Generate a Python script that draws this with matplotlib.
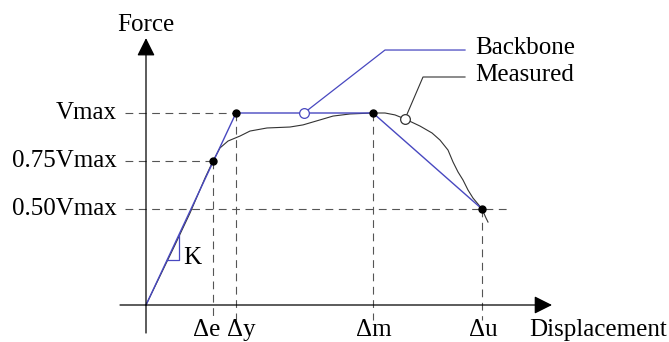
import numpy as np
import matplotlib
matplotlib.use("Agg")
import matplotlib.pyplot as plt

plt.rcParams['font.family'] = ['Liberation Serif', 'DejaVu Serif']

# ── key points (displacement units, force in Vmax units) ──
d_e, d_y, d_m, d_u = 67, 90, 227, 336
levels = [1.0, 0.75, 0.50]
level_labels = ["Vmax", "0.75Vmax", "0.50Vmax"]
disp_labels = ["\u0394e", "\u0394y", "\u0394m", "\u0394u"]
disp_label_x = [61, 95, 228, 337]   # labels sit a little apart under Δe / Δy

backbone_x = [0, d_y, d_m, d_u]
backbone_y = [0, 1.0, 1.0, 0.5]

measured_x = [0, 14, 29, 44, 59, 67, 74, 82, 94, 104, 121, 144, 157, 174, 187,
              204, 227, 239, 249, 259, 274, 286, 294, 302, 307, 312, 317, 322,
              327, 332, 336, 340, 342]
measured_y = [0, 0.151, 0.313, 0.479, 0.661, 0.75, 0.818, 0.854, 0.880, 0.906,
              0.922, 0.927, 0.938, 0.964, 0.984, 0.995, 1.0, 1.0, 0.990, 0.969,
              0.932, 0.896, 0.859, 0.807, 0.745, 0.693, 0.651, 0.599, 0.557,
              0.526, 0.5, 0.453, 0.432]

BLUE = "#4848c0"
DASH = "#555555"
FS = 18

fig = plt.figure(figsize=(6.69, 3.42), dpi=100)
ax = fig.add_axes([0, 0, 1, 1])
ax.set_xlim(-146, 523)
ax.set_ylim(-37 / 192, 305 / 192)
ax.axis("off")

# axes with arrows
arrow = dict(arrowstyle="-|>,head_length=0.5,head_width=0.25", mutation_scale=22,
             lw=0.9, color="black", shrinkA=0, shrinkB=0)
ax.annotate("", xy=(0, 1.39), xytext=(0, -0.146), arrowprops=arrow)
ax.annotate("", xy=(406, 0), xytext=(-26, 0), arrowprops=arrow)

# dashed guides
dash_kw = dict(color=DASH, lw=0.8, dashes=(7, 5))
ax.plot([-21, d_y], [1.0, 1.0], **dash_kw)
ax.plot([-21, d_e], [0.75, 0.75], **dash_kw)
ax.plot([-21, 364], [0.5, 0.5], **dash_kw)
for xv, yv in [(d_e, 0.75), (d_y, 1.0), (d_m, 1.0), (d_u, 0.5)]:
    ax.plot([xv, xv], [yv, -0.078], **dash_kw)

# curves
ax.plot(measured_x, measured_y, color="#333333", lw=0.8)
ax.plot(backbone_x, backbone_y, color=BLUE, lw=1.0)

# key points
ax.plot([d_e, d_y, d_m, d_u], [0.75, 1.0, 1.0, 0.5], "o", color="black",
        ms=5, zorder=5)

# stiffness triangle
slope = 1.0 / d_y
y0, y1 = 0.234, 0.365
ax.plot([y0 / slope, y1 / slope, y1 / slope], [y0, y0, y1], color=BLUE, lw=0.9)
ax.text(37, 0.245, "K", fontsize=FS, va="center", ha="left")

# leaders
ax.plot([158, 239, 319], [1.0, 1.328, 1.328], color=BLUE, lw=0.9)
ax.plot(158, 1.0, "o", mfc="white", mec=BLUE, ms=7, mew=0.9, zorder=6)
ax.plot([259, 277, 319], [0.969, 1.1875, 1.1875], color="#333333", lw=0.8)
ax.plot(259, 0.969, "o", mfc="white", mec="#333333", ms=7, mew=0.9, zorder=6)
ax.text(329, 1.34, "Backbone", fontsize=FS, va="center", ha="left")
ax.text(329, 1.198, "Measured", fontsize=FS, va="center", ha="left")

# labels
for lv, lab in zip(levels, level_labels):
    ax.text(-29, lv, lab, fontsize=FS, va="center", ha="right")
for xv, lab in zip(disp_label_x, disp_labels):
    ax.text(xv, -0.13, lab, fontsize=FS, va="center", ha="center")
ax.text(0, 1.46, "Force", fontsize=FS, va="center", ha="center")
ax.text(383, -0.13, "Displacement", fontsize=FS, va="center", ha="left")

fig.savefig("out.png", dpi=100)
